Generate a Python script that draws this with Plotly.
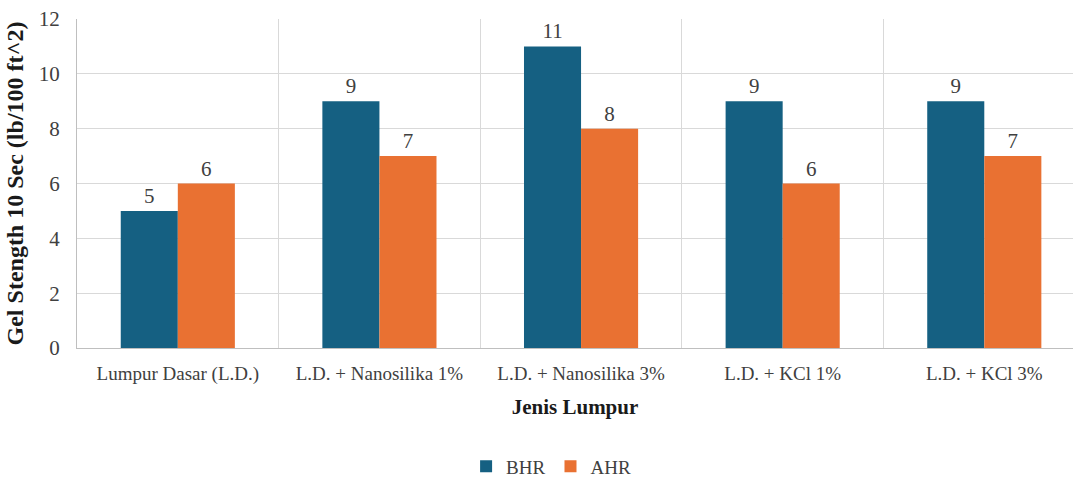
import plotly.graph_objects as go

# Jenis lumpur (mud types) and gel strength readings
categories = [
    "Lumpur Dasar (L.D.)",
    "L.D. + Nanosilika 1%",
    "L.D. + Nanosilika 3%",
    "L.D. + KCl 1%",
    "L.D. + KCl 3%",
]
bhr = [5, 9, 11, 9, 9]
ahr = [6, 7, 8, 6, 7]

series = [("BHR", bhr, "#156082"), ("AHR", ahr, "#E97132")]

SERIF = "Liberation Serif"

fig = go.Figure()
for name, vals, color in series:
    fig.add_trace(go.Bar(
        x=categories, y=vals, name=name,
        marker=dict(color=color, line=dict(width=0)),
        text=[str(v) for v in vals], textposition="outside",
        textfont=dict(family=SERIF, size=21, color="#404040"),
        cliponaxis=False,
    ))

fig.update_layout(
    width=1073, height=480,
    margin=dict(l=77, r=0, t=19, b=132, autoexpand=False),
    barmode="group", bargap=0.434, bargroupgap=0,
    plot_bgcolor="white", paper_bgcolor="white",
    font=dict(family=SERIF, color="#404040"),
    legend=dict(
        orientation="h", x=0.476, xanchor="center", y=-0.36, yanchor="middle",
        font=dict(family=SERIF, size=19, color="#404040"),
        itemwidth=30, traceorder="normal",
    ),
    xaxis=dict(
        type="category", tickson="boundaries", range=[-0.5, 4.44],
        automargin=False,
        showgrid=True, gridcolor="#d9d9d9", gridwidth=1,
        showline=True, linecolor="#bfbfbf", linewidth=1,
        ticks="", ticklabelstandoff=8,
        tickfont=dict(family=SERIF, size=19, color="#404040"),
        title=dict(text="<b>Jenis Lumpur</b>", standoff=15,
                   font=dict(family=SERIF, size=21, color="#1a1a1a")),
    ),
    yaxis=dict(
        range=[0, 12], tickvals=[0, 2, 4, 6, 8, 10, 12],
        automargin=False,
        showgrid=True, gridcolor="#d9d9d9", gridwidth=1,
        showline=True, linecolor="#bfbfbf", linewidth=1,
        zeroline=False, ticks="", ticklabelstandoff=12,
        tickfont=dict(family=SERIF, size=21, color="#404040"),
        title=dict(text="<b>Gel Stength 10 Sec (lb/100 ft^2)</b>", standoff=8,
                   font=dict(family=SERIF, size=24, color="#1a1a1a")),
    ),
)

fig.write_html("out.html")
